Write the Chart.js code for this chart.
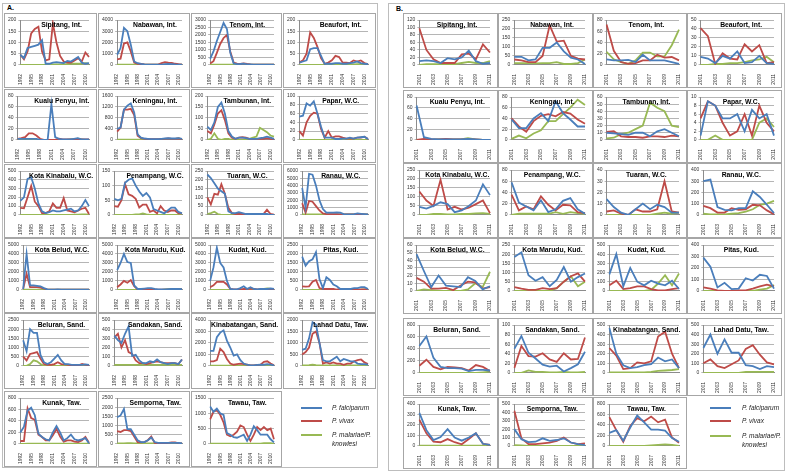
<!DOCTYPE html>
<html><head><meta charset="utf-8">
<script src="https://cdn.jsdelivr.net/npm/chart.js@4.4.1/dist/chart.umd.min.js"></script>
<style>
body{margin:0;width:786px;height:473px;background:#fff;position:relative;overflow:hidden;font-family:'Liberation Sans',Arial,sans-serif;}
.frame{position:absolute;border:1px solid #bdbdbd;box-sizing:border-box;}
.box{position:absolute;border:1px solid #a6a6a6;box-sizing:border-box;background:#fff;}
.box canvas{position:absolute;left:0;top:0;}
.ttl{position:absolute;font-weight:bold;font-size:6.8px;white-space:nowrap;color:#000;line-height:8px;}
.plabel{position:absolute;font-weight:bold;font-size:7px;color:#000;}
.lgline{position:absolute;height:2px;}
.lgtext{position:absolute;font-style:italic;font-size:6.5px;color:#222;line-height:9px;}
</style></head><body>
<script>
// ---------- DATA ----------
const A_years = ['1992','1993','1994','1995','1996','1997','1998','1999','2000','2001','2002','2003','2004','2005','2006','2007','2008','2009','2010','2011'];
const A_tickLabels = ['1992','1995','1998','2001','2004','2007','2010'];
const B_years = ['2001','2002','2003','2004','2005','2006','2007','2008','2009','2010','2011'];
const B_tickLabels = ['2001','2003','2005','2007','2009','2011'];
const seriesNames = ['P. falciparum','P. vivax','P. malariae/P. knowlesi'];
const districts = ['Sipitang, Int.','Nabawan, Int.','Tenom, Int.','Beaufort, Int.','Kualu Penyu, Int.','Keningau, Int.','Tambunan, Int.','Papar, W.C.','Kota Kinabalu, W.C.','Penampang, W.C.','Tuaran, W.C.','Ranau, W.C.','Kota Belud, W.C.','Kota Marudu, Kud.','Kudat, Kud.','Pitas, Kud.','Beluran, Sand.','Sandakan, Sand.','Kinabatangan, Sand.','Lahad Datu, Taw.','Kunak, Taw.','Semporna, Taw.','Tawau, Taw.'];

const A_yMax  = [200,4000,3000,200,80,1600,200,100,500,150,250,6000,5000,5000,5000,2500,2500,500,4000,2000,800,2500,1500];
const A_yStep = [50,1000,500,50,20,400,50,20,100,50,50,1000,1000,1000,1000,500,500,100,1000,500,200,500,500];
const B_yMax  = [120,250,80,50,80,80,60,10,250,80,40,400,60,250,500,400,800,100,500,500,400,500,800];
const B_yStep = [20,50,20,10,20,20,10,2,50,20,10,100,10,50,100,100,200,20,100,100,100,100,200];

const A_falciparum = [
[45,30,75,80,85,90,110,5,5,10,12,10,8,18,15,25,35,10,5,8],
[900,1500,3300,3000,1800,300,150,80,50,30,20,20,20,30,60,80,60,40,30,20],
[400,900,1600,2200,2800,2400,800,100,50,60,80,40,30,20,20,20,20,20,20,20],
[10,15,20,70,75,75,40,5,5,5,8,8,5,5,8,10,15,8,5,3],
[2,2,2,2,2,2,0,0,0,65,5,2,1,1,1,2,3,1,1,1],
[400,450,1100,1250,1330,1000,200,80,50,40,30,30,30,40,50,60,50,50,60,40],
[60,45,80,150,170,120,40,15,5,10,10,8,5,5,5,8,10,15,10,5],
[53,55,83,78,88,60,30,5,5,5,2,2,3,3,5,3,5,6,7,2],
[160,200,410,430,300,130,40,20,30,50,40,40,50,60,70,40,50,100,170,100],
[55,50,55,110,120,125,100,80,65,75,60,20,15,10,5,15,25,25,10,5],
[230,210,180,150,135,120,20,10,10,15,10,5,5,5,5,5,5,5,0,0],
[3700,1000,5600,5500,4000,2000,800,300,300,300,350,300,100,50,50,100,200,150,100,50],
[100,4000,500,500,450,400,200,50,30,20,50,30,20,20,20,20,20,20,20,20],
[2200,3000,4000,3100,3000,500,100,100,150,200,200,100,50,50,50,80,100,100,100,80],
[1000,2500,4700,3000,2500,1000,100,50,50,200,400,100,300,100,50,100,100,100,150,100],
[1850,1350,1600,1700,2100,600,100,700,550,300,200,50,50,50,50,100,100,150,150,50],
[1400,800,2000,1800,1800,600,200,100,200,400,600,300,100,100,50,50,50,50,80,50],
[330,280,250,350,430,110,120,60,30,30,50,40,70,40,30,20,30,30,20,70],
[1300,1300,2500,2900,3100,2200,1600,900,1000,500,200,100,50,50,80,100,100,150,100,50],
[700,750,1200,1900,1800,1000,250,200,200,300,400,200,300,250,200,200,100,80,80,50],
[200,300,580,630,500,180,120,80,60,200,310,200,60,100,160,80,60,80,100,10],
[1450,1550,1900,800,800,500,200,100,100,200,350,100,50,50,50,50,50,50,50,20],
[1220,1050,1150,1000,950,350,300,220,200,250,300,100,300,580,450,300,300,300,150,50]
];
const A_vivax = [
[45,25,60,140,160,170,60,20,25,185,100,40,15,10,10,20,30,15,55,35],
[500,550,1900,2000,1200,200,100,80,50,30,20,20,30,150,250,200,180,100,60,30],
[100,250,800,1400,1800,2000,900,150,80,60,100,60,30,20,20,20,20,20,20,20],
[10,20,50,145,120,80,30,5,10,20,40,35,10,10,8,20,15,20,8,3],
[2,3,5,12,12,8,2,0,0,0,0,2,1,1,1,1,1,1,1,1],
[300,450,1100,1100,1130,900,150,60,40,30,30,30,30,40,40,50,40,40,50,30],
[40,30,70,120,135,90,30,10,5,10,12,10,5,5,5,5,5,8,5,3],
[20,10,40,55,62,60,25,5,20,5,8,8,5,3,3,3,5,5,7,2],
[80,75,200,330,150,100,20,20,40,130,80,80,190,50,40,30,50,70,80,10],
[30,28,50,105,70,65,55,25,35,35,10,15,5,30,15,10,15,15,5,5],
[100,60,120,115,175,120,40,10,5,5,5,3,3,3,3,5,5,30,5,2],
[1600,300,1900,1800,1200,600,200,100,100,100,100,80,50,50,50,50,50,50,50,30],
[100,1800,300,300,300,250,150,30,20,20,20,20,20,20,20,20,20,20,20,20],
[300,600,1000,800,1100,400,50,50,50,50,50,30,30,30,30,30,30,50,50,50],
[300,500,900,900,900,600,100,50,50,50,100,100,150,100,50,50,50,50,50,50],
[200,180,200,450,550,100,50,50,50,50,20,20,10,10,10,10,10,20,20,20],
[500,300,650,700,750,400,100,50,50,100,200,100,80,50,30,30,30,100,50,30],
[310,350,200,280,150,130,60,30,30,20,30,40,50,40,30,30,30,30,20,70],
[400,400,500,1500,1200,600,200,100,150,200,150,100,50,50,80,100,350,400,200,50],
[500,600,800,1400,1500,1000,100,150,100,150,100,100,50,100,100,200,250,280,150,80],
[50,50,620,450,420,160,120,60,60,150,260,130,40,60,60,40,30,60,120,20],
[700,650,750,750,700,400,100,80,100,200,400,50,30,30,30,50,80,80,30,20],
[800,1050,1100,950,700,300,250,300,400,600,550,300,100,300,550,450,550,450,500,150]
];
const A_malariae = [
[0,0,0,0,0,0,0,0,0,2,2,2,3,3,5,5,5,5,8,5],
[10,10,10,10,10,10,10,10,10,10,10,10,10,10,10,10,10,10,10,10],
[20,20,20,20,20,20,20,20,20,20,20,20,20,20,20,20,20,20,20,20],
[0,0,0,0,0,0,0,0,0,0,0,1,1,1,2,2,3,3,2,1],
[0,0,0,0,0,0,0,0,0,0,0,0,0,0,1,1,2,1,0,0],
[10,10,10,10,10,10,10,10,10,10,10,10,10,20,20,30,30,40,50,30],
[0,5,30,5,0,5,5,0,0,0,0,0,5,10,15,55,45,35,20,15],
[0,0,0,0,0,0,0,0,0,0,0,0,0,0,0,0,0,0,0,0],
[0,0,0,0,0,0,0,0,0,0,0,0,0,0,0,2,3,5,5,3],
[0,0,0,0,0,0,2,2,5,2,0,0,0,0,0,0,0,0,0,0],
[5,10,18,5,0,0,0,0,0,0,0,0,0,0,0,0,0,0,0,0],
[50,50,50,50,50,50,50,50,50,50,50,50,50,50,50,50,50,50,50,50],
[20,20,20,20,20,20,20,20,20,20,20,20,20,20,20,20,20,20,20,20],
[0,0,0,0,0,0,0,0,0,0,0,0,0,0,50,80,100,100,100,100],
[0,0,0,0,0,0,0,0,0,0,0,0,0,0,0,50,100,150,100,100],
[0,0,0,0,0,0,0,0,0,0,0,0,0,0,0,0,0,10,30,30],
[0,0,100,300,250,100,0,0,0,0,0,0,0,0,0,0,0,0,0,0],
[10,10,10,10,10,10,10,10,10,10,10,10,10,10,10,10,10,10,10,10],
[20,20,20,20,20,20,20,20,20,20,20,20,20,20,20,20,20,20,20,20],
[20,20,30,50,30,20,20,20,20,20,20,20,20,20,20,20,20,20,20,20],
[0,0,5,5,5,5,5,5,5,5,5,5,5,5,5,5,5,5,5,5],
[20,20,30,40,40,30,20,20,20,20,20,20,20,20,20,20,20,20,20,20],
[10,10,10,10,10,10,10,10,10,10,10,10,10,10,10,10,20,20,20,10]
];

const B_falciparum = [
[10,12,10,5,18,15,20,38,10,3,5],
[45,45,25,30,95,95,125,75,40,30,5],
[10,8,8,9,5,18,8,8,8,5,2],
[9,7,2,10,7,15,2,3,10,2,1],
[64,5,2,1,1,1,1,2,1,0,0],
[38,22,22,40,50,35,72,50,38,25,25],
[10,9,8,7,10,10,5,12,15,10,5],
[1,9,8,5,5,6,2,7,5,6,1],
[45,35,50,70,60,15,25,50,80,170,110],
[58,22,15,8,26,5,10,25,30,10,2],
[14,7,2,0,5,10,5,9,7,2,2],
[300,315,70,45,40,60,60,210,160,90,15],
[48,26,5,20,7,6,5,18,13,2,6],
[185,210,85,55,75,25,60,130,50,75,95],
[180,400,50,250,100,60,110,80,60,110,20],
[290,210,30,70,15,20,110,90,140,130,20],
[450,610,250,100,80,80,70,30,50,50,40],
[50,77,42,30,17,13,15,3,10,18,44],
[470,200,80,50,60,80,90,160,120,140,50],
[260,400,200,350,210,210,80,70,40,70,60],
[315,150,55,85,160,80,50,80,120,20,10],
[200,80,45,50,90,60,70,90,40,20,10],
[250,300,100,350,580,450,310,310,290,150,80]
];
const B_vivax = [
[98,40,15,5,5,5,28,30,15,55,33],
[30,25,15,15,50,220,130,135,50,35,30],
[72,25,5,2,3,8,8,18,13,14,8],
[41,32,1,13,7,6,23,15,22,2,3],
[0,2,1,1,2,1,1,1,1,0,0],
[40,25,15,35,45,48,44,52,49,38,30],
[11,12,5,4,4,3,5,5,4,6,5],
[5,9,8,4,1,2,6,1,8,4,2],
[130,80,50,195,30,45,30,40,60,80,10],
[36,8,15,10,33,18,8,18,17,5,3],
[3,4,1,0,5,3,3,5,30,3,2],
[80,60,20,20,60,45,50,90,85,40,5],
[17,12,3,3,4,1,7,12,11,3,5],
[20,12,5,5,15,10,15,50,80,95,50],
[60,110,20,30,50,50,20,5,5,20,30],
[30,20,5,0,0,5,5,20,40,55,40],
[120,220,100,60,100,90,80,40,130,100,30],
[10,56,35,34,41,28,23,41,28,29,74],
[260,180,40,50,110,100,120,380,430,200,50],
[100,140,70,50,90,130,250,290,190,110,90],
[250,120,40,35,65,35,15,65,120,20,10],
[420,90,20,20,30,40,60,100,40,20,30],
[550,300,80,380,530,470,560,450,500,160,60]
];
const B_malariae = [
[0,2,2,2,2,2,5,8,5,5,10],
[10,10,10,8,10,10,15,5,5,10,30],
[23,10,5,2,8,22,22,15,15,35,63],
[0,0,1,1,2,2,3,5,6,9,3],
[0,0,0,1,1,1,1,3,1,0,0],
[2,8,3,12,18,35,35,48,60,75,65],
[2,3,8,10,15,20,52,45,40,20,18],
[0,0,1,0,0,0,0,0,4,5,3],
[0,0,5,5,3,3,5,5,8,10,5],
[0,2,2,2,2,2,5,2,5,3,2],
[0,0,0,0,0,0,0,1,2,1,2],
[10,5,5,5,10,15,30,50,90,100,125],
[0,2,1,0,0,0,0,2,10,5,25],
[0,0,0,0,0,0,15,50,80,25,50],
[0,0,0,0,0,0,10,80,170,60,190],
[0,0,0,0,0,0,0,0,10,20,50],
[0,0,0,0,0,0,0,0,0,10,20],
[0,0,5,2,2,1,1,2,1,1,2],
[5,5,5,5,5,5,10,20,25,30,40],
[0,0,0,0,0,0,10,10,10,10,10],
[2,2,2,2,2,2,2,2,2,2,2],
[10,5,0,0,0,0,0,0,0,0,0],
[0,0,0,0,0,0,10,20,30,20,0]
];

// ---------- LAYOUT ----------
const COLORS = ['#4a7ebb','#be4b48','#98b954'];
const A_cols = [4,98,191,283]; const A_colW = [93,92,91,93];
const A_rows = [13,89,164,238,313,391]; const A_rowH = [75,74,74,75,76,76];
const B_cols = [403,498,593,687]; const B_colW = [95,95,94,95];
const B_rows = [13,90,163,238,318,397]; const B_rowH = [75,73,75,76,78,72];

function addDiv(cls, css, text){
  const d=document.createElement('div'); d.className=cls;
  Object.assign(d.style, css); if(text!==undefined) d.textContent=text;
  document.body.appendChild(d); return d;
}

function makeChart(x,y,w,h,labels,ticks,f,v,m,ymax,step,title,ratio){
  const box = addDiv('box',{left:x+'px',top:y+'px',width:w+'px',height:h+'px'});
  const cv = document.createElement('canvas');
  cv.width=w-2; cv.height=h-2; cv.style.width=(w-2)+'px'; cv.style.height=(h-2)+'px';
  box.appendChild(cv);
  const ds = [f,v,m].map((d,i)=>({label:seriesNames[i],data:d,borderColor:COLORS[i],backgroundColor:COLORS[i],borderWidth:1.8,pointRadius:0,tension:0,fill:false}));
  new Chart(cv,{type:'line',data:{labels:labels,datasets:ds},
    options:{responsive:false,animation:false,devicePixelRatio:1,
      plugins:{legend:{display:false},tooltip:{enabled:false},title:{display:false}},
      layout:{padding:{left:1,right:5,top:6,bottom:1}},
      scales:{
        x:{grid:{display:false},border:{color:'#8c8c8c'},
           ticks:{autoSkip:false,maxRotation:90,minRotation:90,font:{size:5,family:'Liberation Sans'},color:'#333',padding:1,
             callback:function(val,idx){const l=labels[idx];return ticks.includes(l)?l:'';}}},
        y:{min:0,max:ymax,border:{color:'#8c8c8c'},
           grid:{color:'#b5b5b5',tickLength:2},
           ticks:{autoSkip:false,stepSize:step,font:{size:5,family:'Liberation Sans'},color:'#333',padding:2,callback:v=>String(v)}}
      }}});
  const t = addDiv('ttl',{top:(y+8)+'px'},title);
  const tw = t.offsetWidth;
  let left = x + ratio*w - tw/2;
  if(left+tw > x+w-4) left = x+w-4-tw;
  t.style.left = left+'px';
}

addDiv('frame',{left:'2px',top:'3px',width:'376px',height:'465px'});
addDiv('frame',{left:'388px',top:'3px',width:'397px',height:'468px'});
addDiv('plabel',{left:'7px',top:'4px'},'A.');
addDiv('plabel',{left:'396px',top:'5px'},'B.');

for(let i=0;i<districts.length;i++){
  const r=Math.floor(i/4), c=i%4;
  makeChart(A_cols[c],A_rows[r],A_colW[c],A_rowH[r],A_years,A_tickLabels,A_falciparum[i],A_vivax[i],A_malariae[i],A_yMax[i],A_yStep[i],districts[i],0.62);
  makeChart(B_cols[c],B_rows[r],B_colW[c],B_rowH[r],B_years,B_tickLabels,B_falciparum[i],B_vivax[i],B_malariae[i],B_yMax[i],B_yStep[i],districts[i],0.57);
}

function legend(lx,ly,tx,gaps){
  for(let i=0;i<3;i++){
    addDiv('lgline',{left:lx+'px',top:(ly+gaps[i])+'px',width:'21px',background:COLORS[i]});
  }
  addDiv('lgtext',{left:tx+'px',top:(ly-4)+'px'},seriesNames[0]);
  addDiv('lgtext',{left:tx+'px',top:(ly+gaps[1]-4)+'px'},seriesNames[1]);
  addDiv('lgtext',{left:tx+'px',top:(ly+gaps[2]-4)+'px',width:'44px'},seriesNames[2]);
}
legend(301,407,332,[0,13,27]);
legend(710,407,742,[0,13,28]);
</script>
</body></html>
